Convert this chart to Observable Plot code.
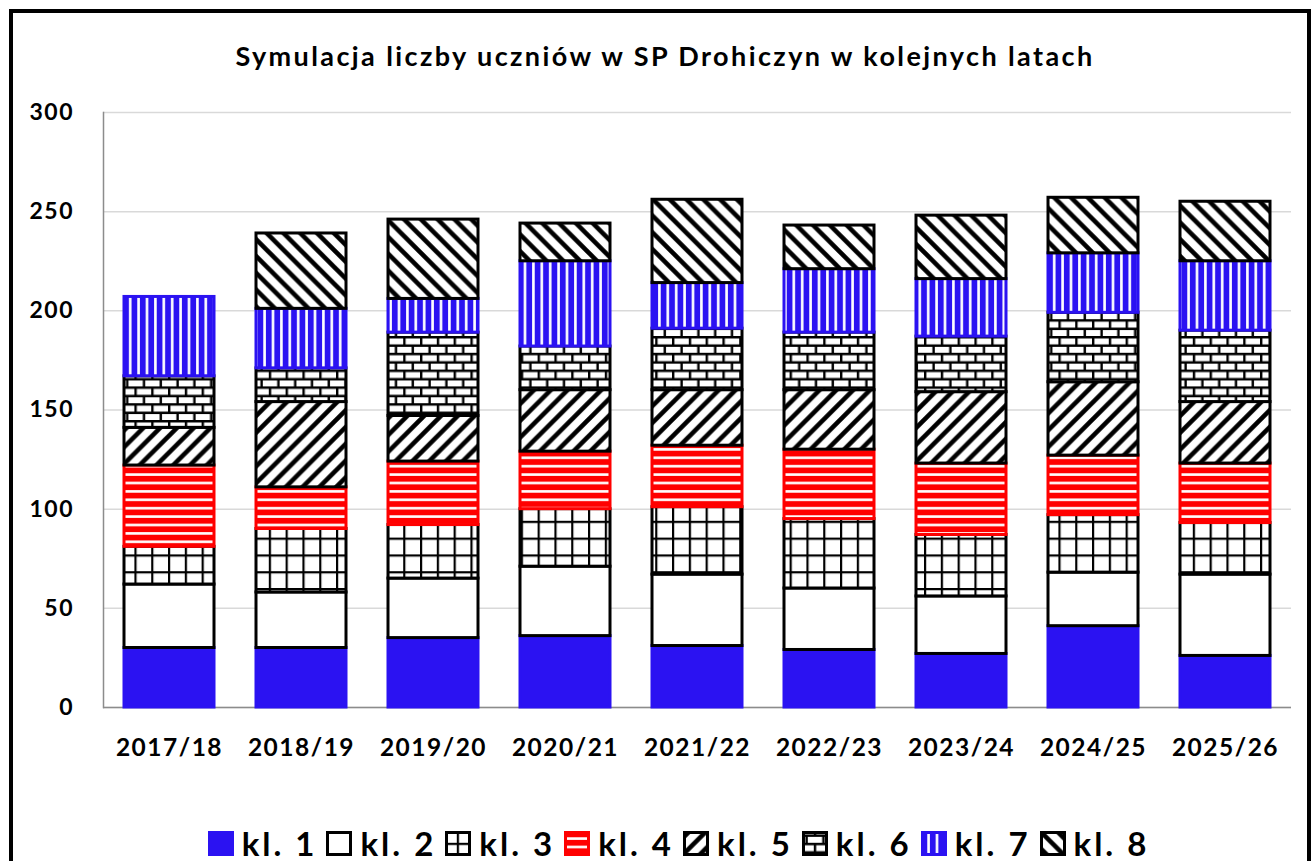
<!DOCTYPE html>
<html>
<head>
<meta charset="utf-8">
<script src="https://cdn.jsdelivr.net/npm/d3@7"></script>
<script src="https://cdn.jsdelivr.net/npm/@observablehq/plot@0.6"></script>
<style>
  html, body { margin: 0; padding: 0; background: #fff; }
  body { width: 1314px; height: 861px; overflow: hidden; position: relative; font-family: Lato, "Open Sans", sans-serif; color: #000; }
  #frame { position: absolute; left: 9px; top: 9px; width: 1294px; height: 900px; border: 4px solid #000; }
  #title { position: absolute; left: 16px; width: 1298px; top: 39px; text-align: center; font-weight: bold; font-size: 27px; letter-spacing: 2.4px; white-space: nowrap; }
  #chart { position: absolute; left: 0; top: 0; }
  #chart svg text { letter-spacing: 1.5px; }
  #legend { position: absolute; left: 43px; width: 1271px; top: 829px; height: 28px; display: flex; justify-content: center; align-items: center; }
  .item { display: flex; align-items: center; margin-right: 9px; height: 28px; }
  .item:last-child { margin-right: 0; }
  .item svg { margin-right: 8px; }
  .item span { font-weight: bold; font-size: 33px; letter-spacing: 3px; line-height: 28px; }
</style>
</head>
<body>
<svg width="0" height="0" style="position:absolute">
  <defs>
    <pattern id="p3" patternUnits="userSpaceOnUse" width="16.8" height="16.8">
      <rect width="16.8" height="16.8" fill="#fff"/>
      <path d="M0 1.1H16.8M1.1 0V16.8" stroke="#000" stroke-width="2.2"/>
    </pattern>
    <pattern id="p4" patternUnits="userSpaceOnUse" width="8.4" height="8.4">
      <rect width="8.4" height="8.4" fill="#ff0000"/>
      <rect y="2.9" width="8.4" height="2.6" fill="#fff"/>
    </pattern>
    <pattern id="p5" patternUnits="userSpaceOnUse" width="16.8" height="16.8">
      <rect width="16.8" height="16.8" fill="#fff"/>
      <path d="M-4.2 4.2L4.2 -4.2M0 16.8L16.8 0M12.6 21L21 12.6" stroke="#000" stroke-width="4.6"/>
    </pattern>
    <pattern id="p6" patternUnits="userSpaceOnUse" width="16.8" height="16.8">
      <rect width="16.8" height="16.8" fill="#fff"/>
      <path d="M0 1.2H16.8M0 9.6H16.8M1.2 0V8.4M9.6 8.4V16.8" stroke="#000" stroke-width="2.4"/>
    </pattern>
    <pattern id="p7" patternUnits="userSpaceOnUse" width="8.4" height="8.4">
      <rect width="8.4" height="8.4" fill="#2b12f2"/>
      <rect x="2.9" width="2.6" height="8.4" fill="#fff"/>
    </pattern>
    <pattern id="p8" patternUnits="userSpaceOnUse" width="16.8" height="16.8">
      <rect width="16.8" height="16.8" fill="#fff"/>
      <path d="M0 0L16.8 16.8M12.6 -4.2L21 4.2M-4.2 12.6L4.2 21" stroke="#000" stroke-width="4.6"/>
    </pattern>
  </defs>
</svg>
<div id="frame"></div>
<div id="title">Symulacja liczby uczniów w SP Drohiczyn w kolejnych latach</div>
<div id="chart"></div>
<div id="legend"></div>
<script>
// ---- data ----
const years = ["2017/18", "2018/19", "2019/20", "2020/21", "2021/22", "2022/23", "2023/24", "2024/25", "2025/26"];
const classes = ["kl. 1", "kl. 2", "kl. 3", "kl. 4", "kl. 5", "kl. 6", "kl. 7", "kl. 8"];
const kl1 = [30, 30, 35, 36, 31, 29, 27, 41, 26];
const kl2 = [32, 28, 30, 35, 36, 31, 29, 27, 41];
const kl3 = [19, 32, 27, 29, 34, 35, 31, 29, 26];
const kl4 = [41, 21, 32, 29, 31, 35, 36, 30, 30];
const kl5 = [19, 43, 23, 31, 28, 30, 36, 37, 31];
const kl6 = [26, 17, 42, 22, 31, 29, 28, 35, 36];
const kl7 = [40, 30, 17, 43, 23, 32, 29, 30, 35];
const kl8 = [0, 38, 40, 19, 42, 22, 32, 28, 30];
const yTicks = [0, 50, 100, 150, 200, 250, 300];

// ---- styles ----
const BLUE = "#2b12f2", RED = "#ff0000";
const fills = [BLUE, "#ffffff", "url(#p3)", "url(#p4)", "url(#p5)", "url(#p6)", "url(#p7)", "url(#p8)"];
const strokes = [BLUE, "#000", "#000", RED, "#000", "#000", BLUE, "#000"];

const counts = [kl1, kl2, kl3, kl4, kl5, kl6, kl7, kl8];
const rows = [];
years.forEach((yr, i) => {
  let acc = 0;
  classes.forEach((c, j) => {
    const v = counts[j][i];
    rows.push({year: yr, klasa: c, n: v, y1: acc, y2: acc + v});
    acc += v;
  });
});

const chart = Plot.plot({
  width: 1314,
  height: 780,
  marginTop: 112,
  marginBottom: 73,
  marginLeft: 103,
  marginRight: 23,
  x: {domain: years, paddingInner: 0.32, paddingOuter: 0.155, label: null},
  y: {domain: [0, 300], label: null},
  style: {fontFamily: "Lato, 'Open Sans', sans-serif", color: "#000", background: "transparent", overflow: "visible"},
  marks: [
    Plot.gridY(yTicks, {stroke: "#d9d9d9", strokeOpacity: 1, strokeWidth: 1.5}),
    Plot.ruleY([0], {stroke: "#8c8c8c", strokeWidth: 1.5}),
    Plot.frame({anchor: "left", stroke: "#8c8c8c", strokeWidth: 1.5}),
    ...classes.map((c, j) => Plot.barY(rows.filter(r => r.klasa === c && r.n > 0), {
      x: "year", y1: "y1", y2: "y2", fill: fills[j], stroke: strokes[j], strokeWidth: 3
    })),
    Plot.axisY(yTicks, {tickSize: 0, tickPadding: 29.5, fontSize: 23, fontWeight: "bold", label: null}),
    Plot.axisX({tickSize: 0, tickPadding: 31, fontSize: 24.5, fontWeight: "bold", label: null})
  ]
});
document.getElementById("chart").appendChild(chart);

// ---- legend ----
const legend = document.getElementById("legend");
classes.forEach((c, j) => {
  const item = document.createElement("div");
  item.className = "item";
  item.innerHTML = `<svg width="26" height="25"><g transform="translate(-5,-5)"><rect x="6.5" y="6.5" width="23" height="22" fill="${fills[j]}" stroke="${strokes[j]}" stroke-width="3"/></g></svg><span>${c}</span>`;
  legend.appendChild(item);
});
</script>
</body>
</html>
